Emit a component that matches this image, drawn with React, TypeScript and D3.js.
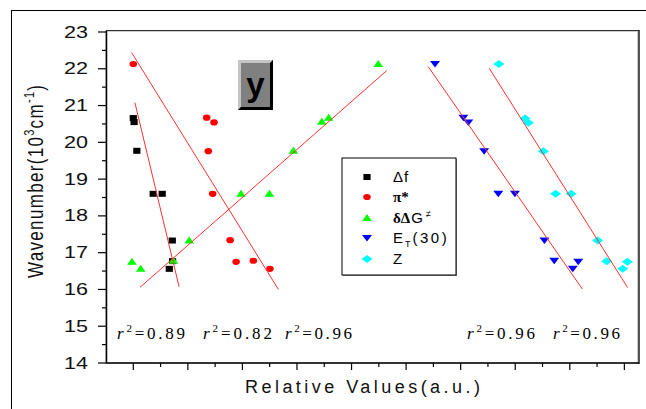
import React from "react";
import * as d3 from "d3";

// ---- data (x in relative units, y in 10^3 cm^-1) ----
const deltaFX = [1.0, 1.03, 1.13, 1.73, 2.06, 2.43, 2.44, 2.32];
const deltaFY = [20.66, 20.55, 19.77, 18.6, 18.6, 17.33, 16.77, 16.56];

const piX = [1.0, 3.69, 3.96, 3.75, 3.91, 4.55, 4.77, 5.4, 6.01];
const piY = [22.13, 20.67, 20.54, 19.76, 18.6, 17.34, 16.75, 16.78, 16.56];

const dGX = [9.98, 7.91, 8.16, 6.87, 4.95, 5.99, 3.05, 2.47, 0.95, 1.27];
const dGY = [22.13, 20.56, 20.67, 19.77, 18.6, 18.6, 17.33, 16.78, 16.75, 16.56];

const etX = [12.06, 13.1, 13.28, 13.86, 14.38, 14.99, 16.07, 16.43, 17.31, 17.11];
const etY = [22.13, 20.67, 20.54, 19.76, 18.6, 18.6, 17.33, 16.78, 16.75, 16.56];

const zX = [14.4, 15.36, 15.48, 16.03, 16.48, 17.05, 18.02, 18.35, 19.11, 18.94];
const zY = [22.13, 20.65, 20.53, 19.76, 18.6, 18.6, 17.33, 16.77, 16.75, 16.56];

// fit line endpoints [x0, y0, x1, y1]
const fitDeltaF = [1.06, 21.08, 2.68, 16.07];
const fitPi = [0.94, 22.44, 6.32, 16.0];
const fitDG = [1.25, 16.06, 10.29, 21.95];
const fitET = [11.81, 22.06, 17.46, 16.01];
const fitZ = [14.05, 22.01, 19.12, 16.05];

const r2Labels = ["0.89", "0.82", "0.96", "0.96", "0.96"];
const yTicks = [14, 15, 16, 17, 18, 19, 20, 21, 22, 23];

const W = 646;
const H = 409;
const X0 = 106, X1 = 638, Y0 = 32, Y1 = 363;

const xs = d3.scaleLinear().domain([0, 19.5]).range([X0, X1]);
const ys = d3.scaleLinear().domain([14, 23]).range([Y1, Y0]);

const line = d3.line<[number, number]>().x((d) => xs(d[0])).y((d) => ys(d[1]));

type Shape = "square" | "circle" | "up" | "down" | "diamond";

function Marker({ shape, x, y, color }: { shape: Shape; x: number; y: number; color: string }) {
  if (shape === "square") return <rect x={x - 3.6} y={y - 3} width={7.2} height={6} fill={color} />;
  if (shape === "circle") return <ellipse cx={x} cy={y} rx={3.8} ry={3.1} fill={color} />;
  if (shape === "up")
    return <path d={`M${x},${y - 4}L${x + 4.8},${y + 3}L${x - 4.8},${y + 3}Z`} fill={color} />;
  if (shape === "down")
    return <path d={`M${x - 5},${y - 3}L${x + 5},${y - 3}L${x},${y + 3.5}Z`} fill={color} />;
  return <path d={`M${x - 5.5},${y}L${x},${y - 4}L${x + 5.5},${y}L${x},${y + 4}Z`} fill={color} />;
}

const series: { xs: number[]; ys: number[]; shape: Shape; color: string; fit: number[] }[] = [
  { xs: deltaFX, ys: deltaFY, shape: "square", color: "#000000", fit: fitDeltaF },
  { xs: piX, ys: piY, shape: "circle", color: "#ff0000", fit: fitPi },
  { xs: dGX, ys: dGY, shape: "up", color: "#00ff00", fit: fitDG },
  { xs: etX, ys: etY, shape: "down", color: "#0000ff", fit: fitET },
  { xs: zX, ys: zY, shape: "diamond", color: "#00ffff", fit: fitZ },
];

const r2Pos = [
  [117, 68],
  [203, 69],
  [285, 67],
  [467, 68],
  [553, 67],
];

export default function App() {
  const xTicks = d3.range(1, 20);
  const yMinor = d3.range(14.5, 23, 1);
  const sans = "'Liberation Sans', Arial, sans-serif";
  const serif = "'Liberation Serif', 'Times New Roman', serif";
  return (
    <svg width={W} height={H} style={{ position: "absolute", left: 0, top: 0, background: "#fff" }}>
      {/* outer frame */}
      <line x1={11} y1={10.5} x2={W} y2={10.5} stroke="#000" strokeWidth={1} />
      <line x1={11.5} y1={10} x2={11.5} y2={H} stroke="#000" strokeWidth={1} />

      {/* plot frame */}
      <rect x={X0} y={Y0 - 1} width={X1 - X0} height={Y1 - Y0 + 1} fill="none" stroke="#9a9a9a" strokeWidth={1} />
      <line x1={X0} y1={Y0 - 1.5} x2={X1 + 1} y2={Y0 - 1.5} stroke="#333" strokeWidth={1} />
      <line x1={X1 + 1} y1={Y0 - 2} x2={X1 + 1} y2={Y1 + 1} stroke="#222" strokeWidth={1.5} />
      <line x1={X0 + 0.5} y1={Y0 - 1} x2={X0 + 0.5} y2={Y1} stroke="#000" strokeWidth={1.5} />
      <line x1={X0} y1={Y1} x2={X1 + 1} y2={Y1} stroke="#000" strokeWidth={1.5} />

      {/* y ticks & labels */}
      {yTicks.map((t) => (
        <g key={`yt${t}`}>
          <line x1={X0 - 8} x2={X0} y1={ys(t)} y2={ys(t)} stroke="#000" strokeWidth={1.2} />
          <text x={64} y={ys(t) + 5.5} fontFamily={sans} fontSize={17} textLength={24} lengthAdjust="spacingAndGlyphs" fill="#111">
            {t}
          </text>
        </g>
      ))}
      {yMinor.map((t) => (
        <line key={`ym${t}`} x1={X0 - 4} x2={X0} y1={ys(t)} y2={ys(t)} stroke="#000" strokeWidth={1.2} />
      ))}

      {/* x ticks */}
      {xTicks.map((t) => (
        <line key={`xt${t}`} x1={xs(t)} x2={xs(t)} y1={Y1} y2={Y1 + (t % 2 === 1 ? 7 : 4)} stroke="#000" strokeWidth={1.2} />
      ))}

      {/* axis titles */}
      <text x={245} y={393} fontFamily={sans} fontSize={18} textLength={235} lengthAdjust="spacing" fill="#111">
        Relative Values(a.u.)
      </text>
      <text transform="translate(43,0) rotate(-90) scale(1,1.25)" x={-278} y={0} fontFamily={sans} fontSize={17} textLength={193} lengthAdjust="spacing" fill="#111">
        Wavenumber(10
        <tspan dy={-7} fontSize={11}>3</tspan>
        <tspan dy={7}>cm</tspan>
        <tspan dy={-7} fontSize={11}>-1</tspan>
        <tspan dy={7}>)</tspan>
      </text>

      {/* points */}
      {series.map((s, si) => (
        <g key={`s${si}`}>
          {s.xs.map((v, i) => (
            <Marker key={i} shape={s.shape} x={xs(v)} y={ys(s.ys[i])} color={s.color} />
          ))}
        </g>
      ))}

      {/* fit lines */}
      {series.map((s, si) => (
        <path
          key={`f${si}`}
          d={line([
            [s.fit[0], s.fit[1]],
            [s.fit[2], s.fit[3]],
          ]) || ""}
          fill="none"
          stroke="#ff3030"
          strokeWidth={1}
        />
      ))}

      {/* y badge */}
      <rect x={238} y={60} width={35} height={50} fill="#808080" />
      <path d="M238,60 L273,60 L270,63 L241,63 L241,107 L238,110 Z" fill="#c4c4c4" />
      <path d="M273,60 L273,110 L238,110 L241,107 L270,107 L270,63 Z" fill="#000" />
      <text x={255.5} y={96} textAnchor="middle" fontFamily={sans} fontSize={33} fontWeight="bold" fill="#000">
        y
      </text>

      {/* legend */}
      <rect x={343} y={159} width={114} height={117} fill="#888" />
      <rect x={342} y={158} width={114} height={117} fill="#fff" stroke="#000" strokeWidth={1} />
      <Marker shape="square" x={367} y={177} color="#000000" />
      <Marker shape="circle" x={367} y={197} color="#ff0000" />
      <Marker shape="up" x={367} y={218} color="#00ff00" />
      <Marker shape="down" x={367} y={238} color="#0000ff" />
      <Marker shape="diamond" x={367} y={259} color="#00ffff" />
      <text x={393} y={182} fontFamily={sans} fontSize={15} fill="#000" letterSpacing={1}>
        Δf
      </text>
      <text x={393} y={202} fontFamily={serif} fontSize={15} fontWeight="bold" fill="#000">
        π*
      </text>
      <text x={393} y={223} fontSize={15} fill="#000">
        <tspan fontFamily={serif} fontWeight="bold">δΔ</tspan>
        <tspan fontFamily={sans} dx={1}>G</tspan>
        <tspan fontFamily={sans} fontSize={9} dx={3} dy={-6}>≠</tspan>
      </text>
      <text x={393} y={243} fontFamily={sans} fontSize={15} fill="#000">
        E
        <tspan fontSize={9} dx={2} dy={4}>T</tspan>
        <tspan dy={-4} dx={2} letterSpacing={2.5}>(30)</tspan>
      </text>
      <text x={393} y={264} fontFamily={sans} fontSize={15} fill="#000">
        Z
      </text>

      {/* r^2 labels */}
      {r2Labels.map((lab, i) => (
        <text key={`r${i}`} x={r2Pos[i][0]} y={339} fontFamily={serif} fontSize={17} textLength={r2Pos[i][1]} lengthAdjust="spacing" fill="#000">
          <tspan fontStyle="italic">r</tspan>
          <tspan dy={-7} fontSize={11}>2</tspan>
          <tspan dy={7}>={lab}</tspan>
        </text>
      ))}
    </svg>
  );
}
